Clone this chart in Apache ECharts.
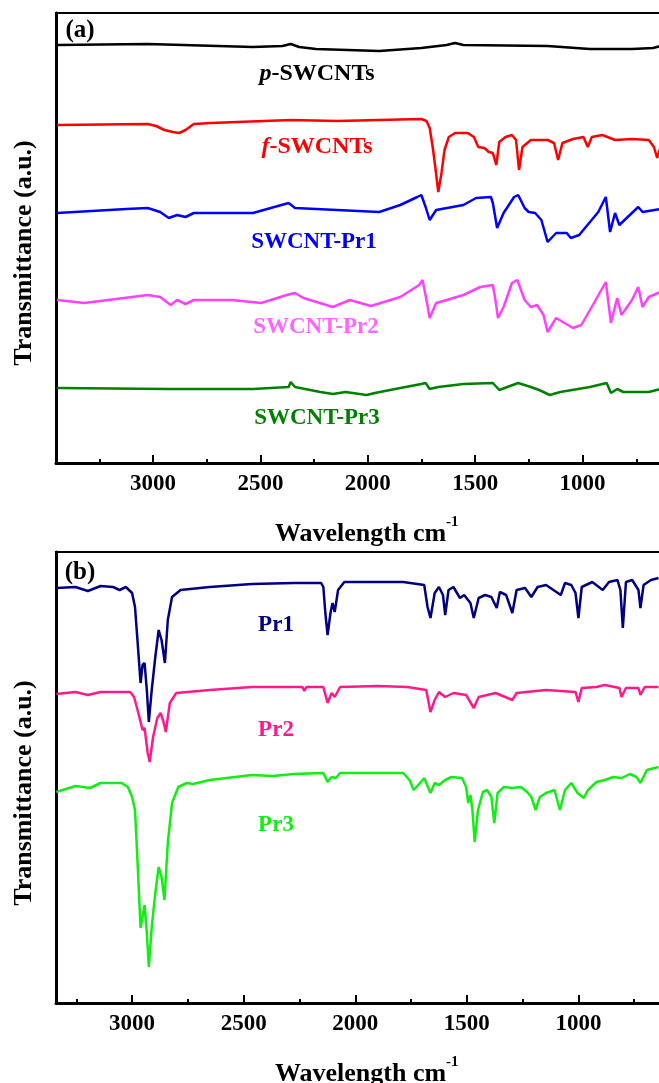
<!DOCTYPE html>
<html>
<head>
<meta charset="utf-8">
<script src="https://cdn.jsdelivr.net/npm/echarts@6/dist/echarts.min.js"></script>
<style>
  html, body { margin: 0; padding: 0; overflow: hidden; background: #fff; }
  #chart { width: 700px; height: 1083px; }
</style>
</head>
<body>
<div id="chart"></div>
<script>
  // panel (a): wavenumber (cm-1) and transmittance (a.u., offset per curve)
  const pWave = [3447, 3025, 2535, 2398, 2359, 2320, 2241, 1947, 1751, 1633, 1594, 1555, 1163, 966, 770, 672, 637]
  const pT = [418, 419, 416, 417, 419, 416, 414, 412, 415, 418, 420, 418, 417, 414, 414, 415, 417]

  const fWave = [3447, 3025, 2986, 2947, 2908, 2878, 2849, 2810, 2731, 2359, 2143, 1751, 1727, 1712, 1698, 1686, 1672, 1657, 1643, 1623, 1594, 1535, 1506, 1486, 1457, 1437, 1418, 1402, 1388, 1359, 1329, 1310, 1296, 1280, 1241, 1163, 1133, 1114, 1094, 1045, 996, 976, 957, 908, 849, 770, 692, 668, 653, 637]
  const fT = [338, 339, 337, 333, 331, 330, 333, 339, 340, 343, 342, 344, 342, 335, 316, 296, 271, 290, 313, 326, 330, 330, 326, 316, 315, 311, 310, 298, 321, 326, 328, 323, 293, 316, 323, 323, 320, 303, 320, 324, 326, 316, 326, 328, 323, 324, 323, 316, 305, 316]

  const pr1sWave = [3447, 3124, 3025, 2967, 2927, 2918, 2888, 2849, 2810, 2535, 2369, 2339, 1947, 1849, 1770, 1751, 1731, 1712, 1682, 1555, 1496, 1427, 1418, 1398, 1368, 1319, 1300, 1270, 1251, 1221, 1192, 1163, 1123, 1074, 1055, 1016, 927, 892, 872, 849, 829, 790, 741, 721, 637]
  const pr1sT = [250, 254, 255, 251, 245, 243, 248, 246, 250, 250, 260, 255, 251, 258, 266, 268, 256, 243, 253, 258, 265, 266, 260, 235, 250, 266, 268, 255, 251, 250, 243, 221, 230, 230, 225, 228, 251, 266, 231, 250, 238, 246, 256, 251, 254]

  const pr2sWave = [3447, 3320, 3025, 2967, 2918, 2888, 2849, 2810, 2633, 2496, 2378, 2339, 2300, 2163, 2084, 1986, 1849, 1761, 1745, 1727, 1712, 1682, 1633, 1555, 1476, 1418, 1408, 1394, 1368, 1329, 1304, 1270, 1241, 1212, 1182, 1163, 1123, 1084, 1045, 1006, 947, 892, 868, 839, 819, 770, 741, 721, 692, 637]
  const pr2sT = [163, 160, 168, 166, 158, 163, 159, 163, 163, 160, 168, 170, 165, 156, 163, 157, 166, 178, 183, 163, 145, 160, 163, 168, 176, 178, 166, 145, 156, 180, 183, 163, 156, 158, 148, 131, 145, 140, 135, 138, 160, 181, 140, 165, 148, 163, 176, 156, 166, 171]

  const pr3sWave = [3447, 2927, 2535, 2369, 2359, 2339, 2221, 2163, 2104, 2006, 1967, 1849, 1751, 1731, 1712, 1672, 1555, 1418, 1388, 1300, 1241, 1202, 1153, 1104, 966, 888, 868, 839, 810, 692, 637]
  const pr3sT = [75, 74, 74, 76, 81, 76, 71, 69, 71, 68, 70, 75, 79, 80, 74, 76, 79, 80, 73, 80, 76, 73, 68, 71, 76, 80, 70, 74, 71, 71, 74]

  // panel (b)
  const pr1Wave = [3339, 3254, 3198, 3141, 3085, 3056, 3028, 3000, 2987, 2976, 2962, 2953, 2944, 2934, 2925, 2912, 2896, 2881, 2868, 2853, 2840, 2821, 2783, 2652, 2463, 2275, 2153, 2143, 2134, 2124, 2111, 2102, 2092, 2077, 2049, 1785, 1691, 1676, 1663, 1644, 1625, 1607, 1597, 1582, 1560, 1531, 1512, 1484, 1469, 1447, 1418, 1390, 1366, 1352, 1324, 1296, 1277, 1239, 1211, 1183, 1145, 1079, 1060, 1032, 1013, 1000, 985, 938, 891, 863, 825, 812, 801, 787, 759, 731, 722, 708, 675, 641]
  const pr1T = [415, 416, 412, 417, 416, 413, 416, 410, 396, 363, 320, 338, 340, 313, 281, 313, 346, 373, 363, 340, 383, 406, 413, 416, 419, 420, 420, 416, 390, 368, 390, 400, 391, 413, 421, 421, 418, 396, 385, 410, 416, 408, 388, 413, 416, 405, 408, 400, 385, 405, 408, 406, 395, 411, 408, 390, 413, 415, 406, 416, 418, 408, 420, 418, 410, 385, 416, 421, 413, 421, 423, 413, 375, 421, 423, 413, 395, 418, 423, 425]

  const pr2Wave = [3339, 3254, 3198, 3141, 3009, 2991, 2972, 2953, 2944, 2930, 2921, 2906, 2887, 2872, 2859, 2849, 2831, 2802, 2652, 2463, 2237, 2228, 2219, 2143, 2124, 2106, 2092, 2068, 1898, 1767, 1682, 1663, 1644, 1625, 1597, 1560, 1503, 1469, 1447, 1371, 1296, 1277, 1145, 1013, 1000, 985, 919, 882, 816, 807, 787, 731, 722, 703, 641]
  const pr2T = [309, 311, 308, 311, 311, 306, 290, 273, 275, 250, 241, 266, 285, 290, 281, 271, 300, 310, 313, 316, 316, 312, 316, 316, 300, 310, 306, 316, 317, 316, 313, 291, 303, 311, 306, 310, 308, 295, 306, 310, 303, 310, 313, 311, 301, 315, 316, 318, 315, 306, 315, 315, 308, 316, 316]

  const pr3Wave = [3339, 3254, 3188, 3141, 3047, 3019, 3000, 2987, 2976, 2962, 2953, 2944, 2934, 2925, 2912, 2896, 2881, 2868, 2855, 2840, 2821, 2793, 2755, 2727, 2652, 2463, 2369, 2275, 2143, 2124, 2106, 2087, 2068, 1898, 1785, 1757, 1738, 1710, 1691, 1663, 1644, 1625, 1597, 1569, 1522, 1503, 1494, 1484, 1475, 1465, 1450, 1428, 1409, 1390, 1377, 1362, 1334, 1296, 1258, 1230, 1211, 1192, 1173, 1145, 1107, 1083, 1060, 1032, 1004, 976, 957, 919, 882, 844, 806, 769, 740, 722, 693, 641]
  const pr3T = [211, 217, 215, 220, 220, 216, 206, 193, 143, 75, 86, 98, 70, 36, 76, 110, 136, 126, 103, 160, 200, 216, 220, 219, 223, 228, 227, 229, 230, 221, 226, 225, 230, 230, 230, 223, 213, 220, 225, 210, 220, 218, 223, 226, 225, 216, 200, 208, 193, 161, 193, 211, 213, 206, 180, 210, 216, 215, 216, 211, 206, 193, 206, 210, 213, 193, 213, 220, 210, 205, 213, 221, 223, 226, 225, 229, 226, 220, 233, 236]

  const tickLabels = [1000, 1500, 2000, 2500, 3000]

  const font = 'Liberation Serif'

  function pairs(w, t) {
    return w.map((v, i) => [v, t[i]])
  }

  function line(name, w, t, color, axis) {
    return {
      name: name,
      type: 'line',
      xAxisIndex: axis * 2,
      yAxisIndex: axis,
      data: pairs(w, t),
      showSymbol: false,
      lineStyle: {color: color, width: 2.5},
      itemStyle: {color: color},
      animation: false
    }
  }

  function mainX(grid, max) {
    return {
      type: 'value', gridIndex: grid, position: 'bottom', inverse: true,
      min: 500, max: max, interval: 500,
      axisLine: {lineStyle: {color: '#000', width: 3}},
      axisTick: {inside: true, length: 8, lineStyle: {color: '#000', width: 2}},
      axisLabel: {
        color: '#000', fontFamily: font, fontWeight: 'bold', fontSize: 23, margin: 10,
        formatter: v => tickLabels.indexOf(v) >= 0 ? String(v) : ''
      },
      splitLine: {show: false}
    }
  }

  function minorX(grid, max) {
    return {
      type: 'value', gridIndex: grid, position: 'bottom', inverse: true,
      min: 500, max: max, interval: 250,
      axisLine: {show: false},
      axisTick: {inside: true, length: 4, lineStyle: {color: '#000', width: 2}},
      axisLabel: {show: false},
      splitLine: {show: false}
    }
  }

  function yAx(grid, max) {
    return {
      type: 'value', gridIndex: grid, min: 0, max: max,
      axisLine: {show: true, lineStyle: {color: '#000', width: 3}},
      axisTick: {show: false},
      axisLabel: {show: false},
      splitLine: {show: false}
    }
  }

  function label(text, x, y, color, opts) {
    return Object.assign({
      type: 'text', x: x, y: y,
      style: {
        text: text, fill: color, fontFamily: font, fontWeight: 'bold', fontSize: 23,
        align: 'center', verticalAlign: 'middle'
      }
    }, opts || {})
  }

  function italicLabel(first, rest, x, y, color) {
    return {
      type: 'text', x: x, y: y,
      style: {
        text: '{i|' + first + '}{n|' + rest + '}',
        align: 'center', verticalAlign: 'middle',
        rich: {
          i: {fill: color, fontFamily: font, fontWeight: 'bold', fontStyle: 'italic', fontSize: 24},
          n: {fill: color, fontFamily: font, fontWeight: 'bold', fontSize: 24}
        }
      }
    }
  }

  function axisName(x, y) {
    return [
      {type: 'text', x: x, y: y, style: {text: 'Wavelength cm', fill: '#000', fontFamily: font, fontWeight: 'bold', fontSize: 26, align: 'left', verticalAlign: 'middle'}},
      {type: 'text', x: x + 171, y: y - 12, style: {text: '-1', fill: '#000', fontFamily: font, fontWeight: 'bold', fontSize: 15, align: 'left', verticalAlign: 'middle'}}
    ]
  }

  function yName(y) {
    return {
      type: 'text', x: 24, y: y, rotation: Math.PI / 2,
      style: {text: 'Transmittance (a.u.)', fill: '#000', fontFamily: font, fontWeight: 'bold', fontSize: 26, align: 'center', verticalAlign: 'middle'}
    }
  }

  let chart = echarts.init(document.getElementById('chart'))
  let option = {
    backgroundColor: '#fff',
    animation: false,
    grid: [
      {left: 56, top: 13, width: 634, height: 450, show: true, borderColor: '#000', borderWidth: 2, outerBoundsMode: 'none'},
      {left: 56, top: 552, width: 634, height: 451, show: true, borderColor: '#000', borderWidth: 2, outerBoundsMode: 'none'}
    ],
    xAxis: [mainX(0, 3452), minorX(0, 3452), mainX(1, 3341), minorX(1, 3341)],
    yAxis: [yAx(0, 450), yAx(1, 451)],
    series: [
      line('p-SWCNTs', pWave, pT, '#000000', 0),
      line('f-SWCNTs', fWave, fT, '#ff0000', 0),
      line('SWCNT-Pr1', pr1sWave, pr1sT, '#0000ff', 0),
      line('SWCNT-Pr2', pr2sWave, pr2sT, '#ff40ff', 0),
      line('SWCNT-Pr3', pr3sWave, pr3sT, '#008000', 0),
      line('Pr1', pr1Wave, pr1T, '#000080', 1),
      line('Pr2', pr2Wave, pr2T, '#ff1a8c', 1),
      line('Pr3', pr3Wave, pr3T, '#11ee11', 1)
    ],
    graphic: [
      label('(a)', 80, 31, '#000', {style: {text: '(a)', fill: '#000', fontFamily: font, fontWeight: 'bold', fontSize: 25, align: 'center', verticalAlign: 'middle'}}),
      label('(b)', 80, 573, '#000', {style: {text: '(b)', fill: '#000', fontFamily: font, fontWeight: 'bold', fontSize: 25, align: 'center', verticalAlign: 'middle'}}),
      italicLabel('p', '-SWCNTs', 317, 74, '#000000'),
      italicLabel('f', '-SWCNTs', 317, 147, '#ff0000'),
      label('SWCNT-Pr1', 314, 242, '#0000ff'),
      label('SWCNT-Pr2', 316, 327, '#ff66ff'),
      label('SWCNT-Pr3', 317, 418, '#008000'),
      label('Pr1', 276, 625, '#000080'),
      label('Pr2', 276, 730, '#ff1a8c'),
      label('Pr3', 276, 825, '#11ee11'),
      yName(253),
      yName(793)
    ].concat(axisName(275, 534), axisName(275, 1074))
  }
  chart.setOption(option)
</script>
</body>
</html>
